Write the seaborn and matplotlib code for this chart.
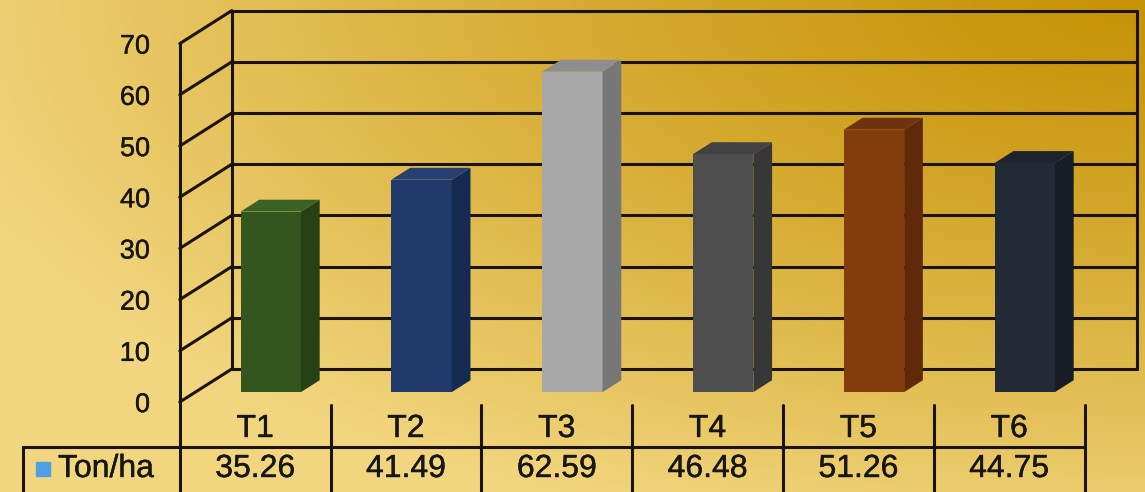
import numpy as np
import matplotlib
matplotlib.use("Agg")
import matplotlib.pyplot as plt
import matplotlib.patheffects as pe
import seaborn as sns
from matplotlib.patches import Polygon

# ---------------- data ----------------
categories = ["T1", "T2", "T3", "T4", "T5", "T6"]
values = [35.26, 41.49, 62.59, 46.48, 51.26, 44.75]
value_labels = ["35.26", "41.49", "62.59", "46.48", "51.26", "44.75"]
series_name = "Ton/ha"
y_ticks = [0, 10, 20, 30, 40, 50, 60, 70]

# ---------------- styles ----------------
front_colors = ["#33561f", "#1f3a6b", "#a8a8a8", "#4e4e4e", "#833c0c", "#222a35"]
side_colors = ["#264116", "#162b51", "#777777", "#373737", "#60290a", "#171d26"]
top_colors = ["#3b6226", "#263f70", "#8e8e8e", "#424242", "#6e320c", "#1d242e"]
line_color = "#1c1307"
text_color = "#161616"
legend_blue = "#4d9fe6"

W, H, DPI = 1145, 492, 100
X0_PX = 255.2      # pixel x of category 0 on the front plane
STEP_PX = 150.8    # pixels per category
Y0_PX = 402.0      # pixel y (from top) of value 0 on the front plane
UNIT_PX = 5.12     # pixels per value unit
DEPTH_PX = (52.0, 33.0)   # full wall depth (right, up) in pixels
BAR_T0, BAR_T1 = 0.30, 0.66
BAR_WIDTH = 0.40

sns.set_theme(style="white")
plt.rcParams['font.family'] = ['Liberation Sans', 'DejaVu Sans']

fig = plt.figure(figsize=(W / DPI, H / DPI), dpi=DPI)

xlim = (-X0_PX / STEP_PX, (W - X0_PX) / STEP_PX)
ylim = ((Y0_PX - H) / UNIT_PX, Y0_PX / UNIT_PX)
ddx = DEPTH_PX[0] / STEP_PX
ddy = DEPTH_PX[1] / UNIT_PX

def px_x(p):
    return (p - X0_PX) / STEP_PX

def px_y(p):
    return (Y0_PX - p) / UNIT_PX

heavy = [pe.withStroke(linewidth=0.3, foreground=text_color)]

# ---------------- background gradient ----------------
axbg = fig.add_axes([0, 0, 1, 1])
yy, xx = np.mgrid[0:H, 0:W]
d = np.sqrt(((xx - W) / 1250.0) ** 2 + (yy / 560.0) ** 2)
d = np.clip(d, 0, 1)
dark = np.array([0.78, 0.58, 0.03])
light = np.array([0.95, 0.84, 0.50])
img = dark + (light - dark) * (d[..., None] ** 1.3)
axbg.imshow(img, aspect="auto", extent=(0, W, H, 0))
axbg.set_axis_off()

# ---------------- walls & table ----------------
axw = fig.add_axes([0, 0, 1, 1])
axw.set_xlim(*xlim)
axw.set_ylim(*ylim)
axw.set_axis_off()
axw.patch.set_alpha(0)

n = len(categories)
left = -0.5
right = n - 0.5
lw = 2.2
for v in y_ticks:
    axw.plot([left, left + ddx], [v, v + ddy], color=line_color, lw=lw, solid_capstyle="round")
    axw.plot([left + ddx, right + ddx], [v + ddy, v + ddy], color=line_color, lw=lw)
    axw.text(px_x(150), v - 0.6, str(v), ha="right", va="center", fontsize=19.5,
             color=text_color, path_effects=heavy)
axw.plot([left + ddx] * 2, [ddy, y_ticks[-1] + ddy], color=line_color, lw=lw)
axw.plot([right + ddx] * 2, [ddy, y_ticks[-1] + ddy], color=line_color, lw=lw)
axw.plot([left, left], [y_ticks[-1], ylim[0]], color=line_color, lw=lw)

# table
tbl_left = px_x(23)
row_line = px_y(447)
axw.plot([tbl_left, right], [row_line, row_line], color=line_color, lw=lw)
axw.plot([tbl_left, tbl_left], [row_line, ylim[0]], color=line_color, lw=lw)
for k in range(1, n + 1):
    axw.plot([left + k] * 2, [px_y(405), ylim[0]], color=line_color, lw=lw)
for i, (c, vl) in enumerate(zip(categories, value_labels)):
    axw.text(i, px_y(429), c, ha="center", va="center", fontsize=23,
             color=text_color, path_effects=heavy)
    axw.text(i, px_y(469), vl, ha="center", va="center", fontsize=23,
             color=text_color, path_effects=heavy)
axw.plot([px_x(42.5)], [px_y(469)], marker="s", markersize=9.5, color=legend_blue, ls="none")
axw.text(px_x(58), px_y(469), series_name, ha="left", va="center", fontsize=23,
         color=text_color, path_effects=heavy)

# ---------------- bars ----------------
axb = fig.add_axes([BAR_T0 * DEPTH_PX[0] / W, BAR_T0 * DEPTH_PX[1] / H, 1, 1])
sns.barplot(x=categories, y=values, hue=categories, palette=front_colors,
            width=BAR_WIDTH, saturation=1, legend=False, linewidth=0, ax=axb)
axb.set_xlim(*xlim)
axb.set_ylim(*ylim)
axb.set_axis_off()
axb.patch.set_alpha(0)

bdx = (BAR_T1 - BAR_T0) * ddx
bdy = (BAR_T1 - BAR_T0) * ddy
for i, v in enumerate(values):
    x0 = i - BAR_WIDTH / 2
    x1 = i + BAR_WIDTH / 2
    side = Polygon([(x1, 0), (x1 + bdx, bdy), (x1 + bdx, v + bdy), (x1, v)],
                   closed=True, facecolor=side_colors[i], edgecolor="none", zorder=3)
    top = Polygon([(x0, v), (x1, v), (x1 + bdx, v + bdy), (x0 + bdx, v + bdy)],
                  closed=True, facecolor=top_colors[i], edgecolor="none", zorder=3)
    axb.add_patch(side)
    axb.add_patch(top)

fig.savefig("out.png", dpi=DPI)
